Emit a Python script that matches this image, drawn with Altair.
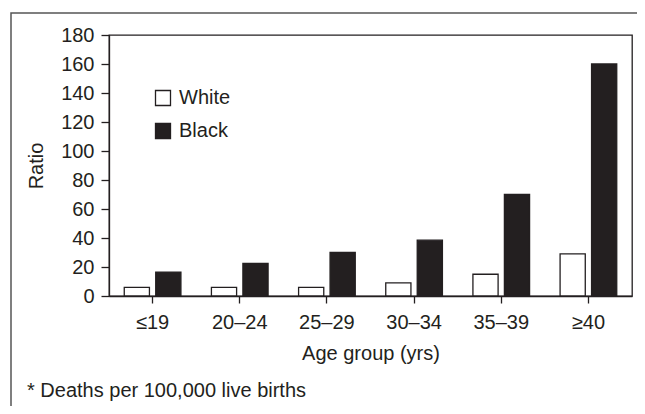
import altair as alt
import pandas as pd

ages = ["≤19", "20–24", "25–29", "30–34", "35–39", "≥40"]
races = ["White", "Black"]
white = [6, 6, 6, 9, 15, 29]
black = [16.5, 22.5, 30, 38.5, 70, 160]
y_ticks = list(range(0, 181, 20))
footnote = "* Deaths per 100,000 live births"

rows = []
for a, w, b in zip(ages, white, black):
    rows.append({"age": a, "race": "White", "ratio": w})
    rows.append({"age": a, "race": "Black", "ratio": b})
df = pd.DataFrame(rows)

INK = "#231f20"
FRAME = "#555555"
FONT = "Liberation Sans"
FS = 20
W, H = 523, 261

axis_style = dict(labelFont=FONT, labelFontSize=FS, labelColor=INK,
                  titleFont=FONT, titleFontSize=FS, titleColor=INK,
                  titleFontWeight="normal", domainColor=INK, tickColor=INK,
                  domainWidth=1.3, tickWidth=1.3)

bars = alt.Chart(df).mark_bar(stroke=INK, strokeWidth=1.3, opacity=1).encode(
    x=alt.X(
        "age:N", sort=ages,
        scale=alt.Scale(paddingInner=0.35, paddingOuter=0.175),
        axis=alt.Axis(title="Age group (yrs)", labelAngle=0, tickSize=7,
                      labelPadding=9, titlePadding=11, **axis_style),
    ),
    xOffset=alt.XOffset("race:N", sort=races,
                        scale=alt.Scale(paddingInner=0.2, paddingOuter=0)),
    y=alt.Y(
        "ratio:Q",
        scale=alt.Scale(domain=[0, 180], nice=False),
        axis=alt.Axis(values=y_ticks, title="Ratio", grid=False, tickSize=8,
                      labelPadding=7, titlePadding=14, **axis_style),
    ),
    color=alt.Color(
        "race:N", sort=races,
        scale=alt.Scale(domain=races, range=["#ffffff", INK]),
        legend=alt.Legend(title=None, orient="none", legendX=44, legendY=53,
                          symbolType="square", symbolSize=225,
                          symbolStrokeColor=INK, symbolStrokeWidth=1.3,
                          symbolOpacity=1, labelFontSize=FS, labelFont=FONT,
                          labelColor=INK, labelOffset=6, rowPadding=11,
                          padding=0),
    ),
)

one = pd.DataFrame({"t": [footnote]})

frame = alt.Chart(one).mark_rect(
    fill=None, stroke=FRAME, strokeWidth=1.5, fillOpacity=0
).encode(
    x=alt.value(-98), x2=alt.value(W + 40), y=alt.value(-22), y2=alt.value(420)
)
note = alt.Chart(one).mark_text(
    align="left", baseline="middle", fontSize=FS, font=FONT, color=INK
).encode(x=alt.value(27 - 109), y=alt.value(391 - 35), text="t:N")

chart = alt.layer(frame, bars, note).properties(
    width=W, height=H,
    autosize=alt.AutoSizeParams(type="none"),
    padding={"left": 101, "top": 27, "right": 5, "bottom": 110},
    background="white",
).configure_view(
    stroke=INK, strokeWidth=1.3
)

chart.save("out.html", embed_options={"renderer": "svg", "actions": False})
